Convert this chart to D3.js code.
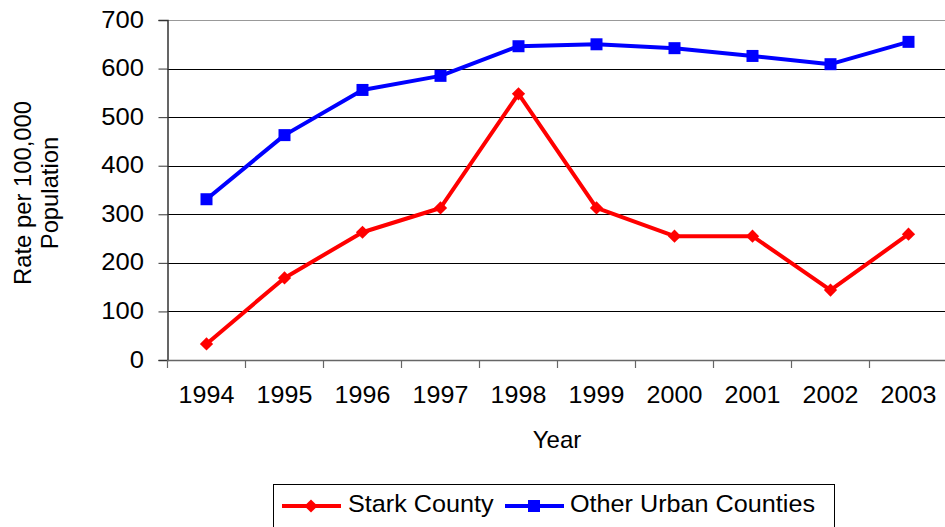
<!DOCTYPE html>
<html><head><meta charset="utf-8">
<script src="https://cdn.jsdelivr.net/npm/d3@7"></script>
<style>body{margin:0;background:#fff}svg{display:block}text{font-family:"Liberation Sans",Arial,sans-serif;fill:#000}</style>
</head><body>
<svg id="c" width="945" height="527"></svg>
<script>
const years = ["1994","1995","1996","1997","1998","1999","2000","2001","2002","2003"];
const stark = [33,169,263,313,548,313,255,255,144,259];
const otherUrban = [331,463,556,585,646,650,642,626,609,655];
const yTicks = [0,100,200,300,400,500,600,700];
const seriesNames = ["Stark County","Other Urban Counties"];

const SX = 1.09; // horizontal stretch of the original rendering
const svg = d3.select("#c");
const L = 167.5, R = 947.5, T = 20, B = 360;
const x = d3.scaleBand().domain(years).range([L, R]);
const y = d3.scaleLinear().domain([0,700]).range([B, T]);

// gridlines
svg.append("g").selectAll("line").data(yTicks.filter(d=>d>0)).join("line")
  .attr("x1", L).attr("x2", R).attr("y1", d=>Math.round(y(d))+0.5).attr("y2", d=>Math.round(y(d))+0.5)
  .attr("stroke", d=>d===700?"#999":"#000").attr("stroke-width",1);

// y axis
const yAxis = svg.append("g").attr("transform",`translate(${L},0)`)
  .call(d3.axisLeft(y).tickValues(yTicks).tickSize(9).tickPadding(14.5).tickFormat(d3.format("d")));
yAxis.select(".domain").attr("stroke","#333").attr("stroke-width",1.5);
yAxis.selectAll(".tick line").attr("stroke","#333");
yAxis.selectAll("text").style("font-size","23.5px").attr("x",-23.5/SX).attr("dy","0.3em").attr("transform",`scale(${SX},1)`);

// x axis
const xAxis = svg.append("g").attr("transform",`translate(0,${B})`)
  .call(d3.axisBottom(x).tickSize(0).tickPadding(27));
xAxis.select(".domain").attr("stroke","#666").attr("stroke-width",1.5);
xAxis.selectAll("text").style("font-size","23px").attr("transform",`scale(${SX},1)`);
svg.append("g").selectAll("line").data(years.concat(["end"])).join("line")
  .attr("x1",(d,i)=>L+i*x.bandwidth()).attr("x2",(d,i)=>L+i*x.bandwidth())
  .attr("y1",B).attr("y2",B+8).attr("stroke","#666").attr("stroke-width",1.2);

const cx = d => x(d)+x.bandwidth()/2;
const line = d3.line().x((d,i)=>cx(years[i])).y(d=>y(d));
const diamond = {draw(ctx,s){const r=Math.sqrt(s)/2;ctx.moveTo(0,-r);ctx.lineTo(r,0);ctx.lineTo(0,r);ctx.lineTo(-r,0);ctx.closePath();}};

function drawSeries(vals,color,shape,size){
  svg.append("path").datum(vals).attr("d",line).attr("fill","none")
    .attr("stroke",color).attr("stroke-width",4).attr("stroke-linejoin","round");
  svg.append("g").selectAll("path").data(vals).join("path")
    .attr("d",d3.symbol().type(shape).size(size))
    .attr("transform",(d,i)=>`translate(${cx(years[i])},${y(d)})`)
    .attr("fill",color);
}
drawSeries(stark,"#ff0000",diamond,175);
drawSeries(otherUrban,"#0000ff",d3.symbolSquare,144);

// axis titles
svg.append("text").attr("transform","translate(557,448)").attr("text-anchor","middle").style("font-size","24px").text("Year");
const yt = svg.append("text").attr("transform","translate(31,193) rotate(-90)").attr("text-anchor","middle").style("font-size","23.8px");
yt.append("tspan").attr("x",0).attr("y",0).text("Rate per 100,000");
yt.append("tspan").attr("x",0).attr("y",27).text("Population");

// legend
const lg = svg.append("g");
lg.append("rect").attr("x",273.5).attr("y",484.5).attr("width",561).attr("height",60).attr("fill","#fff").attr("stroke","#000").attr("stroke-width",1);
const items = [{name:seriesNames[0],color:"#ff0000",shape:diamond,size:175,x:282,tx:348},
               {name:seriesNames[1],color:"#0000ff",shape:d3.symbolSquare,size:144,x:505,tx:570}];
items.forEach(it=>{
  lg.append("line").attr("x1",it.x).attr("x2",it.x+59).attr("y1",506).attr("y2",506).attr("stroke",it.color).attr("stroke-width",4);
  lg.append("path").attr("d",d3.symbol().type(it.shape).size(it.size)).attr("transform",`translate(${it.x+29},506)`).attr("fill",it.color);
  lg.append("text").attr("transform",`translate(${it.tx},512) scale(1.05,1)`).style("font-size","24px").text(it.name);
});
</script>
</body></html>
